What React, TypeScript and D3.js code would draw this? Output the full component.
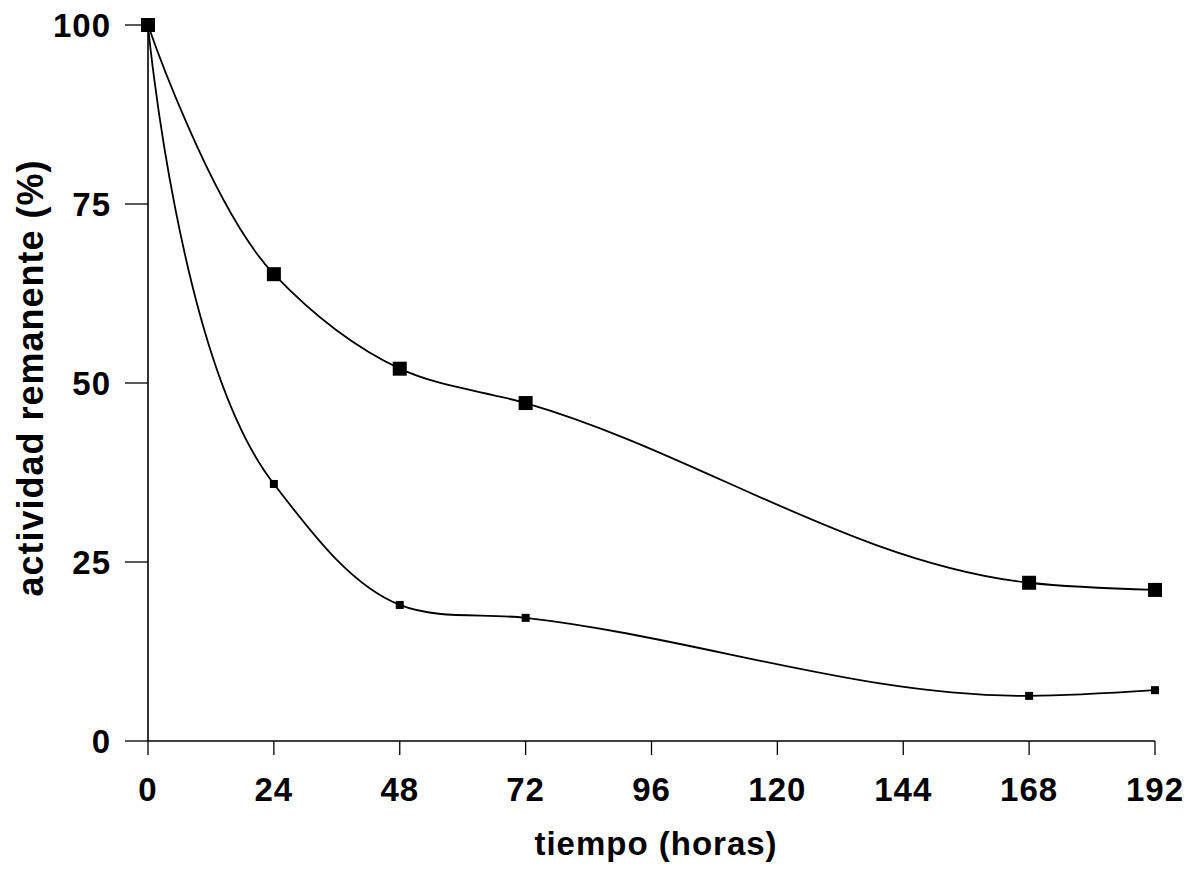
import React from "react";
import * as d3 from "d3";

const hours = [0, 24, 48, 72, 168, 192];
const seriesUpper = [100, 65.2, 52.0, 47.2, 22.1, 21.1];
const seriesLower = [100, 35.9, 19.0, 17.2, 6.3, 7.1];
const xTicks = [0, 24, 48, 72, 96, 120, 144, 168, 192];
const yTicks = [0, 25, 50, 75, 100];

const W = 1187;
const H = 869;
const FONT = "'Liberation Sans', Arial, Helvetica, sans-serif";

export default function App() {
  const x = d3.scaleLinear().domain([0, 192]).range([148, 1155]);
  const y = d3.scaleLinear().domain([0, 100]).range([741, 25]);
  const line = d3
    .line<[number, number]>()
    .x((d) => x(d[0]))
    .y((d) => y(d[1]))
    .curve(d3.curveCatmullRom.alpha(1));
  const up: [number, number][] = hours.map((h, i) => [h, seriesUpper[i]]);
  const lo: [number, number][] = hours.map((h, i) => [h, seriesLower[i]]);
  return (
    <svg width={W} height={H} style={{ position: "absolute", left: 0, top: 0, background: "#fff" }}>
      {/* axes */}
      <line x1={x(0)} x2={x(0)} y1={y(100)} y2={y(0)} stroke="#000" strokeWidth={1.6} />
      <line x1={x(0)} x2={x(192)} y1={y(0)} y2={y(0)} stroke="#000" strokeWidth={1.6} />
      {yTicks.map((t) => (
        <g key={"y" + t}>
          <line x1={x(0) - 23} x2={x(0)} y1={y(t)} y2={y(t)} stroke="#000" strokeWidth={1.3} />
          <text
            x={111}
            y={y(t)}
            dy="0.36em"
            textAnchor="end"
            fontFamily={FONT}
            fontWeight="bold"
            fontSize={33}
            letterSpacing={1}
          >
            {t}
          </text>
        </g>
      ))}
      {xTicks.map((t) => (
        <g key={"x" + t}>
          <line x1={x(t)} x2={x(t)} y1={y(0)} y2={y(0) + 14} stroke="#000" strokeWidth={1.3} />
          <text
            x={x(t)}
            y={801}
            textAnchor="middle"
            fontFamily={FONT}
            fontWeight="bold"
            fontSize={33}
            letterSpacing={1}
          >
            {t}
          </text>
        </g>
      ))}
      <text
        x={656}
        y={855}
        textAnchor="middle"
        fontFamily={FONT}
        fontWeight="bold"
        fontSize={33}
        letterSpacing={1}
      >
        tiempo (horas)
      </text>
      <text
        transform={`translate(43,378) rotate(-90)`}
        textAnchor="middle"
        fontFamily={FONT}
        fontWeight="bold"
        fontSize={36}
        letterSpacing={1}
      >
        actividad remanente (%)
      </text>
      {/* lines */}
      <path d={line(up) || ""} fill="none" stroke="#000" strokeWidth={1.8} />
      <path d={line(lo) || ""} fill="none" stroke="#000" strokeWidth={1.8} />
      {up.map((d, i) => (
        <rect key={"u" + i} x={x(d[0]) - 7} y={y(d[1]) - 7} width={14} height={14} fill="#000" />
      ))}
      {lo.map((d, i) => (
        <rect key={"l" + i} x={x(d[0]) - 4} y={y(d[1]) - 4} width={8} height={8} fill="#000" />
      ))}
    </svg>
  );
}
